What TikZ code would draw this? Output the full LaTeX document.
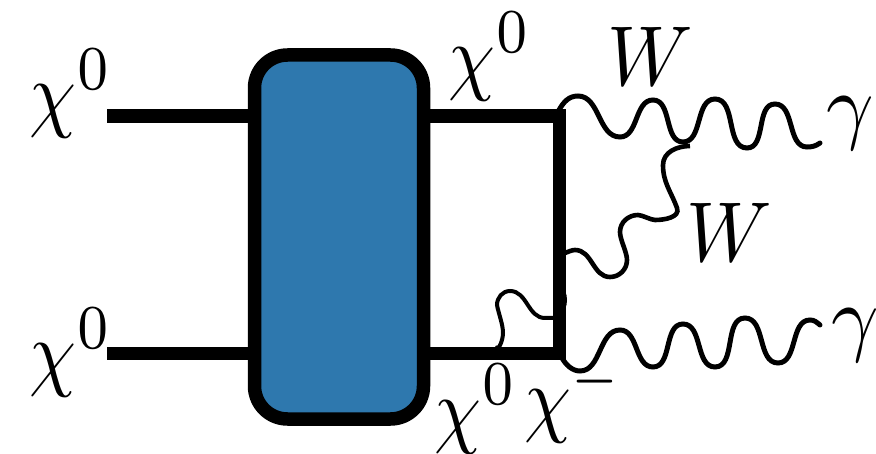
\documentclass[tikz,border=0pt]{standalone}
\usepackage{graphicx}
\newcommand{\biglab}[1]{\scalebox{7.5}[8.5]{$#1$}}
\newcommand{\bigsym}[2]{\scalebox{#1}[8.5]{$#2$}}
\newcommand{\supr}[1]{^{\kern0.2pt\raisebox{0.2pt}{\scalebox{1.05}{$\scriptstyle #1$}}}}
\begin{document}
\begin{tikzpicture}[x=1pt,y=-1pt,
  fermion/.style={line width=13.5pt,line cap=butt},
  boson/.style={line width=5pt,line cap=round},
  midboson/.style={line width=4.6pt,line cap=butt},
  thinboson/.style={line width=4pt,line cap=butt},
  wave/.style={out=0,in=180,looseness=0.95},
  blob/.style={draw=black,line width=13.5pt,fill=blobblue,rounded corners=33pt,minimum width=169pt,minimum height=364pt,inner sep=0pt},
  lab/.style={inner sep=0pt,anchor=base west}]
\definecolor{blobblue}{HTML}{2E78AE}
\useasboundingbox (0,0) rectangle (876,454);
\node[blob] (B) at (339,237) {};
\coordinate (inT) at (107,116);
\coordinate (inB) at (107,353.5);
\coordinate (bTl) at (250,116);
\coordinate (bBl) at (250,353.5);
\coordinate (bTr) at (428,116);
\coordinate (bBr) at (428,353.5);
\coordinate (vT) at (559.5,116);
\coordinate (vB) at (559.5,353.5);
\draw[fermion] (inT) -- (bTl);
\draw[fermion] (inB) -- (bBl);
\draw[fermion] (bTr) -- (vT);
\draw[fermion] (bBr) -- (vB);
\draw[line width=13pt,line cap=butt] ([yshift=6.75pt]vT) -- ([yshift=-6.75pt]vB);
\fill (561,300) ellipse (6pt and 12pt);
% W -> gamma, top
\coordinate (w1) at (559,110);
\coordinate (j) at (683,142);
\coordinate (g1) at (820,143);
\draw[boson] (w1) to[out=60,in=180,looseness=1] (578,96) to[wave] (620,137) to[wave] (653,100) to[wave] (j) to[wave] (715,99) to[wave] (747,148) to[wave] (775,104) to[wave] (807,147) to[out=0,in=215,looseness=1] (g1);
% W internal
\coordinate (j2) at (690,146);
\coordinate (w2) at (565,253);
\draw[midboson] (j2) to[out=180,in=90,looseness=1] (663,165) to[out=-90,in=110,looseness=1] (677,208) to[out=-70,in=0,looseness=1] (655,220) to[out=180,in=0,looseness=0.6] (638,215) to[out=180,in=90,looseness=1] (620,232) to[out=-90,in=90,looseness=0.7] (627,260) to[out=-90,in=0,looseness=1] (610,277) to[out=180,in=0,looseness=1] (575,250) to[out=180,in=20,looseness=0.8] (w2);
% gamma bottom
\coordinate (w3) at (562,358);
\coordinate (g2) at (820,325);
\draw[boson] (w3) to[out=-60,in=180,looseness=0.9] (580,371) to[wave] (620,330) to[wave] (653,367) to[wave] (683,324) to[wave] (715,367) to[wave] (745,318) to[wave] (778,363) to[wave] (810,320) to[out=0,in=140,looseness=1] (g2);
% small loop
\coordinate (w4) at (495,347);
\coordinate (w5) at (554,318);
\draw[thinboson] (w4) to[out=-50,in=-90,looseness=1] (503,333) to[out=90,in=-80,looseness=0.8] (497,305) to[out=90,in=180,looseness=1] (510,291) to[out=0,in=180,looseness=1] (545,318) -- (w5);
% labels
\node[lab] (l1) at (29,122) {\biglab{\chi\supr{0}}};
\node[lab] (l2) at (29,381) {\biglab{\chi\supr{0}}};
\node[lab] (l3) at (448,85) {\biglab{\chi\supr{0}}};
\node[lab] (l4) at (434,437) {\biglab{\chi\supr{0}}};
\node[lab] (l5) at (524,427) {\biglab{\chi^{-}}};
\node[lab] (l6) at (607,86) {\bigsym{7.9}{W}};
\node[lab] (l7) at (686,262) {\bigsym{7.9}{W}};
\node[lab] (l8) at (826,134) {\bigsym{8.3}{\gamma}};
\node[lab] (l9) at (831,346) {\bigsym{8.3}{\gamma}};
\end{tikzpicture}
\end{document}
